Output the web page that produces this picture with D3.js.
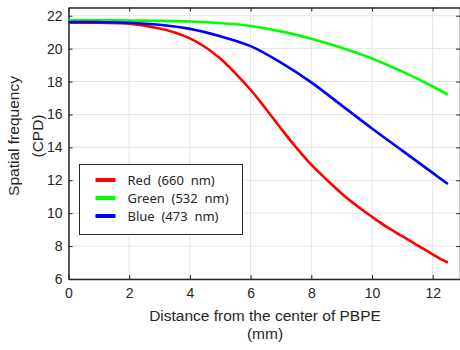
<!DOCTYPE html>
<html>
<head>
<meta charset="utf-8">
<script src="https://cdn.jsdelivr.net/npm/d3@7"></script>
<style>
  body { margin: 0; background: #fff; }
  svg { display: block; }
</style>
</head>
<body>
<svg id="chart" width="460" height="350"></svg>
<script>
const redX   = [0, 1, 2, 3, 3.5, 4, 4.5, 5, 5.5, 6, 6.5, 7, 7.5, 8, 8.5, 9, 9.5, 10, 10.5, 11, 11.5, 12, 12.25, 12.5];
const redY   = [21.58, 21.57, 21.52, 21.22, 20.98, 20.62, 20.1, 19.4, 18.5, 17.5, 16.35, 15.15, 14.0, 12.95, 12.05, 11.2, 10.45, 9.78, 9.15, 8.6, 8.05, 7.5, 7.22, 7.0];
const greenX = [0, 1, 2, 3, 4, 5, 6, 7, 8, 9, 10, 11, 12, 12.5];
const greenY = [21.72, 21.72, 21.71, 21.69, 21.65, 21.55, 21.38, 21.05, 20.6, 20.05, 19.4, 18.6, 17.7, 17.2];
const blueX  = [0, 1, 2, 3, 4, 5, 6, 7, 8, 9, 10, 11, 12, 12.5];
const blueY  = [21.62, 21.61, 21.57, 21.45, 21.2, 20.75, 20.15, 19.15, 17.95, 16.55, 15.15, 13.8, 12.45, 11.77];

const seriesNames  = ["Red  (660  nm)", "Green  (532  nm)", "Blue  (473  nm)"];
const seriesColors = ["#ff0000", "#00ff00", "#0000ff"];
const xTicks = [0, 2, 4, 6, 8, 10, 12];
const yTicks = [6, 8, 10, 12, 14, 16, 18, 20, 22];

const svg = d3.select("#chart");
const axisColor = "#262626";
const font = "'Liberation Sans', Arial, sans-serif";

const plotLeft = 68.5, plotRight = 460, plotTop = 7.5, plotBottom = 279;
const x = d3.scaleLinear().domain([0, 12.9]).range([plotLeft, plotRight]);
const y = d3.scaleLinear().domain([6, 22.5]).range([plotBottom, plotTop]);

// grid
const grid = svg.append("g");
grid.selectAll("line.gx").data(xTicks).enter().append("line")
    .attr("x1", d => x(d)).attr("x2", d => x(d))
    .attr("y1", plotTop).attr("y2", plotBottom)
    .attr("stroke", "#e4e4e4").attr("stroke-width", 1);
grid.selectAll("line.gy").data(yTicks).enter().append("line")
    .attr("x1", plotLeft).attr("x2", plotRight)
    .attr("y1", d => y(d)).attr("y2", d => y(d))
    .attr("stroke", "#e4e4e4").attr("stroke-width", 1);

// axes, MATLAB style ticks pointing inward
const tickLen = 4;
const bottomAxis = svg.append("g")
    .attr("transform", "translate(0," + plotBottom + ")")
    .call(d3.axisBottom(x).tickValues(xTicks).tickSizeInner(-tickLen).tickSizeOuter(0).tickPadding(9));
const topAxis = svg.append("g")
    .attr("transform", "translate(0," + plotTop + ")")
    .call(d3.axisTop(x).tickValues(xTicks).tickSizeInner(-tickLen).tickSizeOuter(0).tickFormat(""));
const leftAxis = svg.append("g")
    .attr("transform", "translate(" + plotLeft + ",0)")
    .call(d3.axisLeft(y).tickValues(yTicks).tickSizeInner(-tickLen).tickSizeOuter(0).tickPadding(6));
const rightAxis = svg.append("g")
    .attr("transform", "translate(" + plotRight + ",0)")
    .call(d3.axisRight(y).tickValues(yTicks).tickSizeInner(-tickLen).tickSizeOuter(0).tickFormat(""));

[bottomAxis, topAxis, leftAxis, rightAxis].forEach(a => {
    a.select(".domain").attr("stroke", axisColor).attr("stroke-width", 1.5);
    a.selectAll(".tick line").attr("stroke", axisColor).attr("stroke-width", 1);
    a.selectAll("text").attr("fill", axisColor).style("font-family", font).style("font-size", "14px");
});

// curves
const line = d3.line()
    .x(d => x(d[0]))
    .y(d => y(d[1]))
    .curve(d3.curveCatmullRom.alpha(0.5));

const curveData = [
    d3.zip(redX, redY),
    d3.zip(greenX, greenY),
    d3.zip(blueX, blueY)
];

svg.append("g").selectAll("path")
    .data(curveData)
    .enter().append("path")
    .attr("d", line)
    .attr("fill", "none")
    .attr("stroke", (d, i) => seriesColors[i])
    .attr("stroke-width", 2.6)
    .attr("stroke-linejoin", "round");

// legend
const legend = svg.append("g").attr("transform", "translate(79.5,164.5)");
legend.append("rect")
    .attr("width", 163).attr("height", 70)
    .attr("fill", "#fff").attr("stroke", axisColor).attr("stroke-width", 1);
const items = legend.selectAll("g.item").data(seriesNames).enter().append("g")
    .attr("transform", (d, i) => "translate(0," + (15.5 + i * 18) + ")");
items.append("line")
    .attr("x1", 16).attr("x2", 36)
    .attr("stroke", (d, i) => seriesColors[i])
    .attr("stroke-width", 4);
items.append("text")
    .attr("x", 48).attr("dy", "0.35em")
    .attr("xml:space", "preserve")
    .style("white-space", "pre")
    .style("font-family", "'Noto Sans', sans-serif")
    .style("font-size", "13px")
    .attr("fill", axisColor)
    .text(d => d);

// axis labels
const xl = svg.append("text")
    .attr("text-anchor", "middle")
    .attr("fill", axisColor)
    .style("font-family", font).style("font-size", "15.5px");
xl.append("tspan").attr("x", 265).attr("y", 321).text("Distance from the center of PBPE");
xl.append("tspan").attr("x", 265).attr("y", 339).text("(mm)");

const yl = svg.append("text")
    .attr("text-anchor", "middle")
    .attr("fill", axisColor)
    .attr("transform", "translate(0,136) rotate(-90)")
    .style("font-family", font).style("font-size", "15.5px");
yl.append("tspan").attr("x", 0).attr("y", 19).text("Spatial frequency");
yl.append("tspan").attr("x", 0).attr("y", 43).text("(CPD)");
</script>
</body>
</html>
